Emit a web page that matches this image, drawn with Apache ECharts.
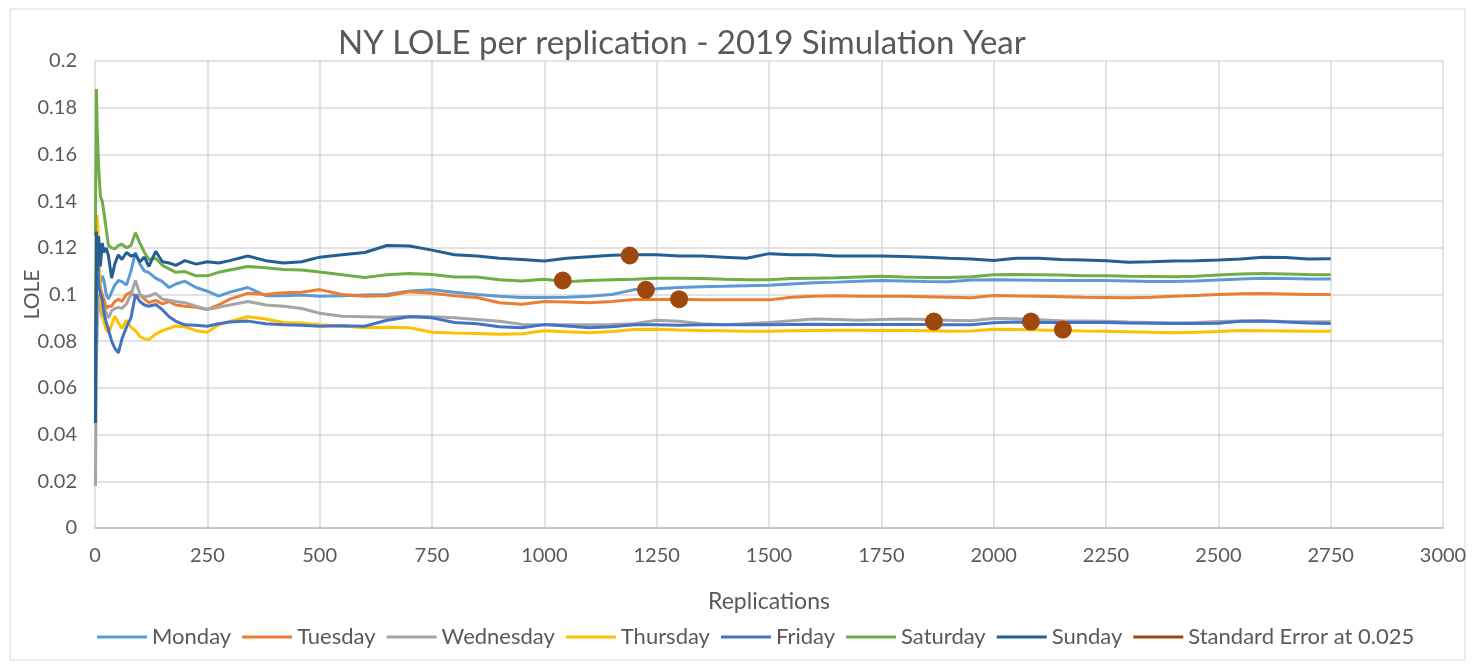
<!DOCTYPE html>
<html>
<head>
<meta charset="utf-8">
<script src="https://cdn.jsdelivr.net/npm/echarts@6/dist/echarts.min.js"></script>
<style>
  html, body { margin: 0; padding: 0; background: #fff; }
  #chart { width: 1472px; height: 669px; }
</style>
</head>
<body>
<div id="chart"></div>
<script>
// 图表初始化
var lolechart = echarts.init(document.getElementById('chart'));

// replications (x) shared by every day line
var reps = [1, 3, 5, 8, 12, 16, 20, 25, 30, 37, 44, 52, 60, 70, 80, 90, 100, 110, 120, 135, 150, 165, 180, 200, 225, 250, 275, 300, 340, 380, 420, 460, 500, 550, 600, 650, 700, 750, 800, 850, 900, 950, 1000, 1050, 1100, 1150, 1200, 1250, 1300, 1350, 1400, 1450, 1500, 1550, 1600, 1650, 1700, 1750, 1800, 1850, 1900, 1950, 2000, 2050, 2100, 2150, 2200, 2250, 2300, 2350, 2400, 2450, 2500, 2550, 2600, 2650, 2700, 2750];

var monday = [0.07, 0.1, 0.118, 0.112, 0.105, 0.108, 0.106, 0.1, 0.098, 0.101, 0.104, 0.106, 0.1055, 0.104, 0.11, 0.118, 0.113, 0.11, 0.1094, 0.107, 0.1055, 0.103, 0.1045, 0.1057, 0.103, 0.1014, 0.0993, 0.101, 0.103, 0.0995, 0.0995, 0.0998, 0.0993, 0.0995, 0.0998, 0.1, 0.1015, 0.102, 0.101, 0.1, 0.0992, 0.0987, 0.0987, 0.0988, 0.0993, 0.1, 0.1021, 0.1025, 0.103, 0.1033, 0.1035, 0.1038, 0.104, 0.1045, 0.105, 0.1053, 0.1057, 0.106, 0.1058, 0.1056, 0.1055, 0.1062, 0.1063, 0.1062, 0.1061, 0.106, 0.106, 0.106, 0.1058, 0.1056, 0.1056, 0.1058, 0.1062, 0.1066, 0.107, 0.1068, 0.1066, 0.1066];
var tuesday = [0.09, 0.11, 0.105, 0.11, 0.103, 0.1, 0.098, 0.094, 0.095, 0.095, 0.097, 0.098, 0.097, 0.1, 0.101, 0.099, 0.1, 0.098, 0.0965, 0.0975, 0.096, 0.097, 0.0955, 0.095, 0.0945, 0.0936, 0.0955, 0.098, 0.1005, 0.1, 0.1008, 0.101, 0.1021, 0.1, 0.0993, 0.0995, 0.1012, 0.1005, 0.0995, 0.0987, 0.0965, 0.0958, 0.097, 0.0968, 0.0965, 0.097, 0.0979, 0.0979, 0.098, 0.0978, 0.0977, 0.0977, 0.0977, 0.0988, 0.0993, 0.0995, 0.0993, 0.0993, 0.0992, 0.099, 0.0988, 0.0986, 0.0996, 0.0994, 0.0992, 0.099, 0.0988, 0.0987, 0.0986, 0.0988, 0.0992, 0.0996, 0.1, 0.1003, 0.1004, 0.1002, 0.1, 0.1];
var wednesday = [0.018, 0.07, 0.085, 0.1, 0.095, 0.09, 0.095, 0.092, 0.09, 0.093, 0.094, 0.0945, 0.094, 0.096, 0.1, 0.106, 0.1, 0.099, 0.0993, 0.1005, 0.098, 0.0975, 0.097, 0.0965, 0.095, 0.0936, 0.0945, 0.0955, 0.097, 0.0955, 0.095, 0.094, 0.092, 0.0907, 0.0905, 0.0903, 0.0907, 0.0905, 0.09, 0.0893, 0.0885, 0.0872, 0.087, 0.087, 0.087, 0.0872, 0.0875, 0.089, 0.0885, 0.0875, 0.087, 0.0875, 0.088, 0.0888, 0.0895, 0.0893, 0.089, 0.0893, 0.0895, 0.0893, 0.089, 0.0888, 0.0897, 0.0896, 0.0892, 0.0888, 0.0887, 0.0885, 0.0882, 0.088, 0.0878, 0.088, 0.0884, 0.0887, 0.0886, 0.0884, 0.0883, 0.0883];
var thursday = [0.09, 0.125, 0.134, 0.12, 0.1, 0.092, 0.088, 0.085, 0.0836, 0.087, 0.0907, 0.088, 0.0855, 0.089, 0.086, 0.0845, 0.082, 0.081, 0.0807, 0.083, 0.0845, 0.0855, 0.0865, 0.0862, 0.0845, 0.0838, 0.087, 0.0885, 0.0905, 0.0895, 0.088, 0.0878, 0.087, 0.0865, 0.0858, 0.086, 0.0858, 0.0838, 0.0835, 0.0833, 0.083, 0.0832, 0.0845, 0.084, 0.0836, 0.0842, 0.085, 0.0851, 0.0848, 0.0846, 0.0845, 0.0843, 0.0843, 0.0845, 0.0846, 0.0847, 0.0847, 0.0846, 0.0846, 0.0845, 0.0843, 0.0844, 0.0851, 0.085, 0.0848, 0.0846, 0.0844, 0.0843, 0.0841, 0.0838, 0.0836, 0.0838, 0.0842, 0.0846, 0.0845, 0.0844, 0.0843, 0.0843];
var friday = [0.06, 0.1, 0.125, 0.105, 0.1, 0.098, 0.092, 0.088, 0.085, 0.08, 0.077, 0.075, 0.081, 0.086, 0.09, 0.1, 0.097, 0.0955, 0.095, 0.0957, 0.0935, 0.0905, 0.0885, 0.087, 0.0868, 0.0864, 0.0875, 0.0882, 0.0886, 0.0875, 0.087, 0.0868, 0.0864, 0.0866, 0.0864, 0.089, 0.0905, 0.09, 0.088, 0.0875, 0.0862, 0.0858, 0.0871, 0.0865, 0.0858, 0.0862, 0.087, 0.087, 0.0868, 0.087, 0.087, 0.087, 0.087, 0.0872, 0.0873, 0.0872, 0.0871, 0.0871, 0.0872, 0.0872, 0.087, 0.087, 0.0879, 0.0882, 0.088, 0.088, 0.088, 0.088, 0.0878, 0.0877, 0.0876, 0.0876, 0.0877, 0.0885, 0.0887, 0.0882, 0.0878, 0.0876];
var saturday = [0.125, 0.188, 0.17, 0.155, 0.142, 0.14, 0.135, 0.128, 0.121, 0.12, 0.1195, 0.121, 0.1215, 0.12, 0.121, 0.1265, 0.122, 0.118, 0.115, 0.1155, 0.1125, 0.111, 0.1095, 0.1098, 0.108, 0.108, 0.1095, 0.1105, 0.112, 0.1115, 0.1107, 0.1105, 0.1096, 0.1085, 0.1073, 0.1085, 0.109, 0.1086, 0.1075, 0.1075, 0.1063, 0.1058, 0.1065, 0.1055, 0.106, 0.1063, 0.1065, 0.107, 0.107, 0.1068, 0.1065, 0.1063, 0.1063, 0.1068, 0.107, 0.1072, 0.1075, 0.1078, 0.1075, 0.1073, 0.1073, 0.1076, 0.1085, 0.1086, 0.1085, 0.1083, 0.108, 0.108, 0.1078, 0.1077, 0.1076, 0.1078, 0.1083, 0.1088, 0.109, 0.1088, 0.1086, 0.1085];
var sunday = [0.045, 0.127, 0.11, 0.125, 0.112, 0.122, 0.118, 0.12, 0.1165, 0.107, 0.113, 0.117, 0.115, 0.118, 0.1165, 0.117, 0.114, 0.116, 0.112, 0.1185, 0.114, 0.1135, 0.1125, 0.1145, 0.113, 0.114, 0.1135, 0.1145, 0.1165, 0.1145, 0.1135, 0.114, 0.116, 0.117, 0.118, 0.121, 0.1208, 0.119, 0.117, 0.1165, 0.1155, 0.115, 0.1143, 0.1155, 0.1162, 0.1168, 0.117, 0.117, 0.1165, 0.1165, 0.116, 0.1155, 0.1175, 0.117, 0.117, 0.1165, 0.1165, 0.1165, 0.1163, 0.116, 0.1155, 0.1152, 0.1146, 0.1155, 0.1155, 0.115, 0.1148, 0.1145, 0.1138, 0.114, 0.1143, 0.1145, 0.1148, 0.1152, 0.116, 0.1158, 0.1152, 0.1153];

// 标准误差点
var seReps = [1041, 1190, 1226, 1300, 1867, 2083, 2154];
var seValues = [0.106, 0.1167, 0.102, 0.098, 0.0884, 0.0884, 0.085];

var dayNames = ['Monday', 'Tuesday', 'Wednesday', 'Thursday', 'Friday', 'Saturday', 'Sunday'];
var dayData = [monday, tuesday, wednesday, thursday, friday, saturday, sunday];
var dayColors = ['#5B9BD5', '#ED7D31', '#A5A5A5', '#FFC000', '#4472C4', '#70AD47', '#255E91'];

function pairs(xs, ys) {
  return xs.map(function (x, i) { return [x, ys[i]]; });
}

var series = dayNames.map(function (name, i) {
  return {
    name: name,
    type: 'line',
    data: pairs(reps, dayData[i]),
    showSymbol: false,
    lineStyle: { width: 3, color: dayColors[i] },
    itemStyle: { color: dayColors[i] },
    z: 2 + i
  };
});

series.push({
  name: 'Standard Error at 0.025',
  type: 'scatter',
  data: pairs(seReps, seValues),
  symbolSize: 18,
  itemStyle: { color: '#9E480E', opacity: 1 },
  z: 20
});

var txt = '#595959';

var option = {
  animation: false,
  textStyle: { fontFamily: 'Lato, "Open Sans", sans-serif' },
  title: {
    text: 'NY LOLE per replication - 2019 Simulation Year',
    left: 333,
    top: 22,
    textStyle: { fontSize: 33, fontWeight: 'normal', color: txt, fontFamily: 'Lato, sans-serif' }
  },
  graphic: [{
    type: 'rect',
    shape: { x: 10, y: 9, width: 1455, height: 651 },
    style: { fill: 'none', stroke: '#D9D9D9', lineWidth: 1 },
    silent: true
  }],
  grid: { left: 95, right: 29, top: 61, bottom: 141 },
  legend: {
    left: 92,
    top: 621,
    icon: 'rect',
    itemWidth: 50,
    itemHeight: 3,
    itemGap: 11,
    textStyle: { fontSize: 22, color: txt },
    data: dayNames.concat(['Standard Error at 0.025'])
  },
  xAxis: {
    type: 'value',
    min: 0,
    max: 3000,
    interval: 250,
    name: 'Replications',
    nameLocation: 'middle',
    nameGap: 62,
    nameTextStyle: { fontSize: 23, color: txt },
    axisLine: { lineStyle: { color: '#BFBFBF', width: 1.5 } },
    axisTick: { show: false },
    axisLabel: {
      fontSize: 20, color: txt, margin: 18,
      formatter: function (v) { return String(v); }
    },
    splitLine: { lineStyle: { color: '#D9D9D9', width: 1.5 } }
  },
  yAxis: {
    type: 'value',
    min: 0,
    max: 0.2,
    interval: 0.02,
    name: 'LOLE',
    nameLocation: 'middle',
    nameGap: 52,
    nameMoveOverlap: false,
    nameTextStyle: { fontSize: 21, color: txt },
    axisLine: { show: false },
    axisTick: { show: false },
    axisLabel: { fontSize: 20, color: txt, margin: 18 },
    splitLine: { lineStyle: { color: '#D9D9D9', width: 1.5 } }
  },
  series: series
};

lolechart.setOption(option);
</script>
</body>
</html>
